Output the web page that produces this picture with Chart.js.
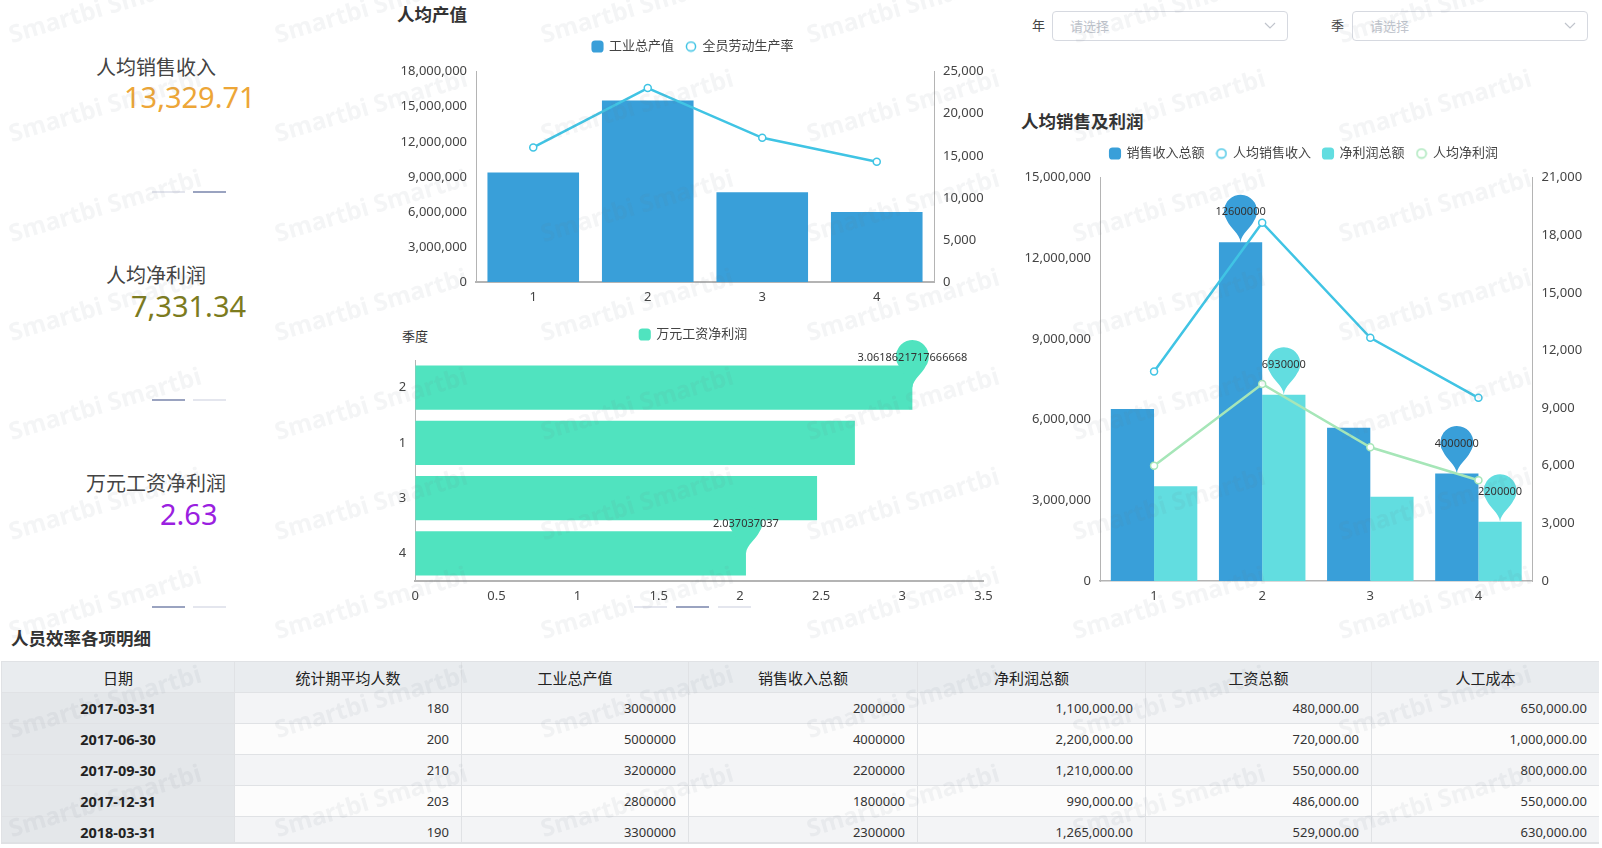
<!DOCTYPE html>
<html lang="zh-CN">
<head>
    <meta charset="UTF-8">
    <title>人员效率</title>
    <script src="https://cdn.jsdelivr.net/npm/chart.js"></script>
    <style>
        html, body {
            margin: 0;
            width: 1602px;
            height: 848px;
            overflow: hidden;
            background: #fff;
            font-family: "Noto Sans", "Noto Sans CJK SC", sans-serif;
            color: #444;
        }
        canvas, .abs { position: absolute; }
        .line20 { line-height: 20px; white-space: nowrap; }
        .title { font-size: 17.5px; font-weight: 700; color: #333; }
        .kpi-name { font-size: 20px; color: #444; }
        .kpi-value { font-size: 29px; }
        .dash { height: 2px; width: 33px; background: #e4e6ee; }
        .dash.on { background: #9aa3c0; }
        .select {
            border: 1px solid #d6d9e0;
            border-radius: 4px;
            box-sizing: border-box;
            height: 30px;
            width: 236px;
            top: 11px;
        }
        .select span {
            position: absolute;
            left: 17px;
            top: 4px;
            font-size: 13px;
            line-height: 20px;
            color: #c0c4cc;
        }
        .select svg { position: absolute; right: 11px; top: 10px; }
        #tableBox {
            left: 1px;
            top: 661px;
            width: 1598px;
            height: 181px;
            overflow: hidden;
            border-bottom: 2px solid #dfe1e4;
        }
        table { border-collapse: collapse; table-layout: fixed; width: 1598px; font-size: 13px; }
        th, td { height: 31px; padding: 0 12px; box-sizing: border-box; border: 1px solid #e0e2e5; color: #333; }
        th { background: #e9ecef; font-weight: 400; font-size: 15px; color: #222; }
        td { text-align: right; background: #fcfcfc; }
        tr:nth-child(even) td { background: #f3f4f6; }
        td:first-child, tr:nth-child(even) td:first-child { text-align: center; font-size: 14.5px; font-weight: 700; background: #e4e7ea; color: #222; }
        #watermark { left: 0; top: 0; width: 1602px; height: 848px; overflow: hidden; pointer-events: none; }
        #watermark span {
            position: absolute;
            font-size: 24.5px;
            font-weight: 700;
            line-height: 26px;
            white-space: nowrap;
            color: rgba(110, 115, 130, 0.075);
            transform-origin: 0 100%;
            transform: rotate(-16.5deg);
        }
    </style>
</head>
<body>
    <div class="abs line20 kpi-name" style="left:96px;top:58px">人均销售收入</div>
    <div class="abs kpi-value" style="left:124px;top:77px;color:#eda637">13,329.71</div>
    <div class="abs dash" style="left:152px;top:191px"></div>
    <div class="abs dash on" style="left:193px;top:191px"></div>

    <div class="abs line20 kpi-name" style="left:106px;top:266px">人均净利润</div>
    <div class="abs kpi-value" style="left:131px;top:286px;color:#7c7b1e">7,331.34</div>
    <div class="abs dash on" style="left:152px;top:399px"></div>
    <div class="abs dash" style="left:193px;top:399px"></div>

    <div class="abs line20 kpi-name" style="left:86px;top:474px">万元工资净利润</div>
    <div class="abs kpi-value" style="left:160px;top:494px;color:#9a20e0">2.63</div>
    <div class="abs dash on" style="left:152px;top:606px"></div>
    <div class="abs dash" style="left:193px;top:606px"></div>

    <div class="abs dash" style="left:634px;top:606px"></div>
    <div class="abs dash on" style="left:676px;top:606px"></div>
    <div class="abs dash" style="left:718px;top:606px"></div>

    <div class="abs line20 title" style="left:397px;top:4px">人均产值</div>
    <div class="abs line20 title" style="left:1021px;top:111px">人均销售及利润</div>
    <div class="abs line20 title" style="left:11px;top:628px">人员效率各项明细</div>
    <div class="abs line20" style="left:402px;top:326px;font-size:13px;color:#333">季度</div>

    <div class="abs line20" style="left:1032px;top:15px;font-size:13px">年</div>
    <div class="abs select" style="left:1052px"><span>请选择</span>
        <svg width="12" height="8"><polyline points="1,1 6,6 11,1" fill="none" stroke="#c0c4cc" stroke-width="1.2"/></svg></div>
    <div class="abs line20" style="left:1331px;top:15px;font-size:13px">季</div>
    <div class="abs select" style="left:1352px"><span>请选择</span>
        <svg width="12" height="8"><polyline points="1,1 6,6 11,1" fill="none" stroke="#c0c4cc" stroke-width="1.2"/></svg></div>

    <canvas id="chartOutput" width="626" height="278" style="left:380px;top:28px"></canvas>
    <canvas id="chartWage" width="627" height="289" style="left:380px;top:316px"></canvas>
    <canvas id="chartSales" width="596" height="470" style="left:1006px;top:135px"></canvas>

    <div class="abs" id="tableBox"><table id="detail"></table></div>
    <div class="abs" id="watermark"></div>

    <script>
        // chart data
        const quarters = ['1', '2', '3', '4'];
        const outputTotal = [9370000, 15540000, 7690000, 6000000];
        const laborProductivity = [16000, 23056, 17143, 14286];

        const wageQuarters = ['2', '1', '3', '4'];
        const wageProfit = [3.0618621717666668, 2.708, 2.475, 2.037037037];

        const salesTotal = [6400000, 12600000, 5700000, 4000000];
        const salesPerHead = [10909, 18659, 12661, 9539];
        const profitTotal = [3520000, 6930000, 3135000, 2200000];
        const profitPerHead = [6000, 10262, 6964, 5246];

        // table data
        const tableHeads = ['日期', '统计期平均人数', '工业总产值', '销售收入总额', '净利润总额', '工资总额', '人工成本'];
        const dates = ['2017-03-31', '2017-06-30', '2017-09-30', '2017-12-31', '2018-03-31'];
        const headcount = ['180', '200', '210', '203', '190'];
        const output = ['3000000', '5000000', '3200000', '2800000', '3300000'];
        const sales = ['2000000', '4000000', '2200000', '1800000', '2300000'];
        const profit = ['1,100,000.00', '2,200,000.00', '1,210,000.00', '990,000.00', '1,265,000.00'];
        const wages = ['480,000.00', '720,000.00', '550,000.00', '486,000.00', '529,000.00'];
        const laborCost = ['650,000.00', '1,000,000.00', '800,000.00', '550,000.00', '630,000.00'];

        const colWidths = [233, 227, 227, 229, 228, 226, 228];
        const FONT = '"Noto Sans", "Noto Sans CJK SC", sans-serif';
        const BLUE = '#399fd9', CYAN = '#40c4e4', TEAL = '#62dde0', MINT = '#a6e6b8', GREEN = '#50e3bf';
        const AXIS = '#b4b4b4', TICK = '#444';

        Chart.defaults.font.family = FONT;
        Chart.defaults.animation = false;
        Chart.defaults.color = TICK;

        // keeps the legend band at a set height so the plot area lands where it should
        const legendBand = {
            id: 'legendBand',
            beforeLayout(chart, args, opts) {
                const legend = chart.legend;
                if (!legend || legend.bandFixed) return;
                const fit = legend.fit;
                legend.fit = function () {
                    fit.call(this);
                    this.height = opts.height;
                };
                legend.bandFixed = true;
            },
            afterLayout(chart, args, opts) {
                chart.legend.left += opts.shift || 0;
                chart.legend.right += opts.shift || 0;
            }
        };

        function pinPath(ctx, x, y) {
            const r = 16.5, cy = y - 31, a = 0.2 * Math.PI;
            const sx = r * Math.cos(a), sy = cy + r * Math.sin(a);
            ctx.beginPath();
            ctx.moveTo(x, y);
            ctx.bezierCurveTo(x + 1, y - 9, x + sx - 3, sy + 7, x + sx, sy);
            ctx.arc(x, cy, r, a, Math.PI - a, true);
            ctx.bezierCurveTo(x - sx + 3, sy + 7, x - 1, y - 9, x, y);
            ctx.closePath();
        }

        function pinIndexes(values) {
            return [values.indexOf(Math.max(...values)), values.indexOf(Math.min(...values))];
        }

        // max / min markers on the bar series
        const markPins = {
            id: 'markPins',
            afterDatasetDraw(chart, args) {
                const ds = chart.data.datasets[args.index];
                if (!ds.pinned) return;
                const ctx = chart.ctx, meta = args.meta;
                ctx.save();
                ctx.fillStyle = ds.backgroundColor;
                pinIndexes(ds.data).forEach(i => {
                    pinPath(ctx, meta.data[i].x, meta.data[i].y);
                    ctx.fill();
                });
                ctx.restore();
            },
            afterDatasetsDraw(chart) {
                const ctx = chart.ctx;
                ctx.save();
                ctx.font = '11px ' + FONT;
                ctx.fillStyle = '#333';
                ctx.textAlign = 'center';
                ctx.textBaseline = 'middle';
                chart.data.datasets.forEach((ds, d) => {
                    if (!ds.pinned) return;
                    const meta = chart.getDatasetMeta(d);
                    pinIndexes(ds.data).forEach(i => {
                        ctx.fillText(String(ds.data[i]), meta.data[i].x, meta.data[i].y - 30);
                    });
                });
                ctx.restore();
            }
        };

        // legend ring for the line series, smaller than the built-in circle style
        function legendRing(color) {
            const c = document.createElement('canvas');
            c.width = c.height = 12;
            const ctx = c.getContext('2d');
            ctx.strokeStyle = color;
            ctx.lineWidth = 1.5;
            ctx.beginPath();
            ctx.arc(6, 6, 4.6, 0, Math.PI * 2);
            ctx.stroke();
            return c;
        }

        function legendOptions(height, shift) {
            return {
                legend: {
                    position: 'top',
                    labels: {
                        usePointStyle: true,
                        boxWidth: 10,
                        boxHeight: 10,
                        padding: 12,
                        color: '#444',
                        font: { size: 13 },
                        sort: (a, b) => a.datasetIndex - b.datasetIndex,
                        generateLabels(chart) {
                            return Chart.defaults.plugins.legend.labels.generateLabels(chart).map(item => {
                                const ds = chart.data.datasets[item.datasetIndex];
                                item.pointStyle = ds.type === 'bar' ? 'rectRounded' : legendRing(ds.borderColor);
                                return item;
                            });
                        }
                    }
                },
                legendBand: { height: height, shift: shift },
                tooltip: { enabled: false }
            };
        }

        function valueAxis(position, max, step, width) {
            return {
                position: position,
                min: 0,
                max: max,
                grid: { display: false, drawTicks: false },
                border: { display: true, color: AXIS, width: 1 },
                afterFit(scale) { scale.width = width; },
                ticks: {
                    stepSize: step,
                    padding: 9,
                    font: { size: 13 },
                    callback: v => v.toLocaleString('en-US')
                }
            };
        }

        function categoryAxis(lineWidth) {
            return {
                grid: { display: false, drawTicks: false },
                border: { display: true, color: AXIS, width: lineWidth },
                afterFit(scale) { scale.height = 24; },
                ticks: { padding: 7, font: { size: 13 } }
            };
        }

        function barSeries(label, data, color, extra) {
            return Object.assign({ type: 'bar', label: label, data: data, backgroundColor: color, order: 2, barPercentage: 1, categoryPercentage: 0.8 }, extra);
        }

        function lineSeries(label, data, color) {
            return {
                type: 'line', label: label, data: data, yAxisID: 'y2', order: 1,
                borderColor: color, borderWidth: 2.5, tension: 0,
                backgroundColor: '#fff', pointBackgroundColor: '#fff',
                pointBorderColor: color, pointBorderWidth: 1.5, pointRadius: 3.5
            };
        }

        new Chart(document.getElementById('chartOutput'), {
            data: {
                labels: quarters,
                datasets: [
                    barSeries('工业总产值', outputTotal, BLUE, { yAxisID: 'y' }),
                    lineSeries('全员劳动生产率', laborProductivity, CYAN)
                ]
            },
            options: {
                responsive: false,
                plugins: legendOptions(43.7, 0),
                scales: {
                    x: categoryAxis(2),
                    y: valueAxis('left', 18000000, 3000000, 96),
                    y2: valueAxis('right', 25000, 5000, 72)
                }
            },
            plugins: [legendBand]
        });

        new Chart(document.getElementById('chartWage'), {
            data: {
                labels: wageQuarters,
                datasets: [
                    barSeries('万元工资净利润', wageProfit, GREEN, { pinned: true })
                ]
            },
            options: {
                indexAxis: 'y',
                responsive: false,
                layout: { padding: { right: 23.5 } },
                plugins: legendOptions(44, 11.75),
                scales: {
                    x: Object.assign(categoryAxis(2), {
                        min: 0, max: 3.5,
                        ticks: { stepSize: 0.5, padding: 7, font: { size: 13 }, callback: v => String(v) }
                    }),
                    y: {
                        grid: { display: false, drawTicks: false },
                        border: { display: true, color: AXIS, width: 1 },
                        afterFit(scale) { scale.width = 35.2; },
                        ticks: { padding: 9, font: { size: 13 } }
                    }
                }
            },
            plugins: [legendBand, markPins]
        });

        new Chart(document.getElementById('chartSales'), {
            data: {
                labels: quarters,
                datasets: [
                    barSeries('销售收入总额', salesTotal, BLUE, { yAxisID: 'y', pinned: true }),
                    lineSeries('人均销售收入', salesPerHead, CYAN),
                    barSeries('净利润总额', profitTotal, TEAL, { yAxisID: 'y', pinned: true }),
                    lineSeries('人均净利润', profitPerHead, MINT)
                ]
            },
            options: {
                responsive: false,
                plugins: legendOptions(42.7, 0),
                scales: {
                    x: categoryAxis(1.5),
                    y: valueAxis('left', 15000000, 3000000, 94),
                    y2: valueAxis('right', 21000, 3000, 69.5)
                }
            },
            plugins: [legendBand, markPins]
        });

        // detail table
        const columns = [dates, headcount, output, sales, profit, wages, laborCost];
        let rows = '<colgroup>' + colWidths.map(w => `<col style="width:${w}px">`).join('') + '</colgroup>';
        rows += '<tr>' + tableHeads.map(h => `<th>${h}</th>`).join('') + '</tr>';
        dates.forEach((d, i) => {
            rows += '<tr>' + columns.map(c => `<td>${c[i]}</td>`).join('') + '</tr>';
        });
        document.getElementById('detail').innerHTML = rows;

        // watermark tiles
        const mark = document.getElementById('watermark');
        for (let r = 0; r < 9; r++) {
            for (let c = 0; c < 6; c++) {
                const s = document.createElement('span');
                s.textContent = 'Smartbi Smartbi';
                s.style.left = (13 + c * 266) + 'px';
                s.style.top = (47 + r * 99.3 - 26) + 'px';
                mark.appendChild(s);
            }
        }
    </script>
</body>
</html>
